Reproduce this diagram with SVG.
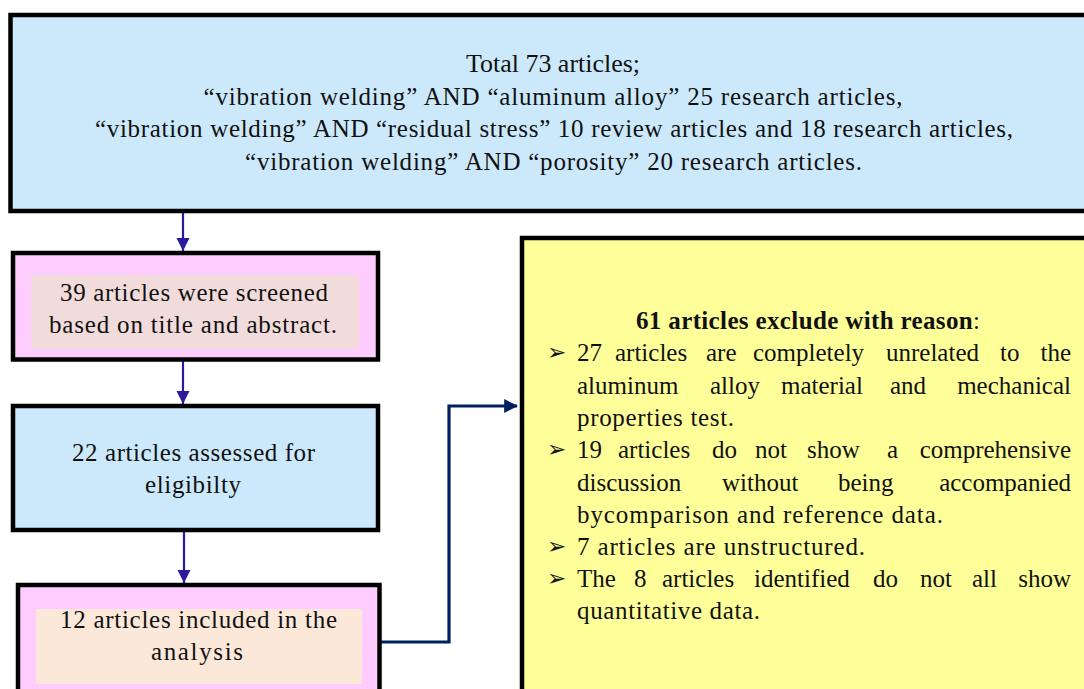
<svg xmlns="http://www.w3.org/2000/svg" width="1084" height="689" viewBox="0 0 1084 689">
<style>
.box{stroke:#000;stroke-width:4.5}
.t{font-family:"Liberation Serif","Times New Roman",serif;font-size:25px;fill:#111}
.m{text-anchor:middle}
.e{text-anchor:end}
.b{font-weight:bold}
.bul{font-family:"DejaVu Sans",sans-serif;font-size:23px;fill:#111}
.arr{stroke:#2c1a9c;stroke-width:2.2;fill:none}
.con{stroke:#002060;stroke-width:3.2;fill:none}
</style>
<defs>
<marker id="ah" viewBox="0 0 12 12" markerUnits="userSpaceOnUse" markerWidth="13" markerHeight="14" refX="12" refY="6" orient="auto">
<path d="M0,0 L12,6 L0,12 z" fill="#2c1a9c"/>
</marker>
<marker id="ah2" viewBox="0 0 12 12" markerUnits="userSpaceOnUse" markerWidth="14" markerHeight="14" refX="11" refY="6" orient="auto">
<path d="M0,0 L12,6 L0,12 z" fill="#002060"/>
</marker>
</defs>
<rect width="1084" height="689" fill="#fff"/>
<g id="connectors">
<line class="arr" x1="183" y1="213" x2="183" y2="251" marker-end="url(#ah)"/>
<line class="arr" x1="183" y1="361" x2="183" y2="404" marker-end="url(#ah)"/>
<line class="arr" x1="184" y1="532" x2="184" y2="583" marker-end="url(#ah)"/>
<polyline class="con" points="381,642 449,642 449,406 517,406" marker-end="url(#ah2)"/>
</g>
<g id="node-total">
<rect class="box" x="10.5" y="15" width="1090" height="196" fill="#cce9fc"/>
<text class="t m" x="553" y="72" textLength="174" lengthAdjust="spacingAndGlyphs">Total 73 articles;</text>
<text class="t m" x="553" y="104.5" textLength="699" lengthAdjust="spacing">“vibration welding” AND “aluminum alloy” 25 research articles,</text>
<text class="t m" x="554" y="137" textLength="918" lengthAdjust="spacing">“vibration welding” AND “residual stress” 10 review articles and 18 research articles,</text>
<text class="t m" x="553.5" y="169.5" textLength="617" lengthAdjust="spacing">“vibration welding” AND “porosity” 20 research articles.</text>
</g>
<g id="node-screened">
<rect class="box" x="13" y="253" width="365" height="106.5" fill="#ffccff"/>
<rect x="31" y="275" width="328" height="74" fill="#f2dcdb"/>
<text class="t m" x="194" y="301" textLength="268" lengthAdjust="spacing">39 articles were screened</text>
<text class="t m" x="193" y="333" textLength="288" lengthAdjust="spacing">based on title and abstract.</text>
</g>
<g id="node-assessed">
<rect class="box" x="13" y="406" width="365" height="124" fill="#cce9fc"/>
<text class="t m" x="193.5" y="461" textLength="243" lengthAdjust="spacing">22 articles assessed for</text>
<text class="t m" x="193" y="493" textLength="96" lengthAdjust="spacing">eligibilty</text>
</g>
<g id="node-included">
<rect class="box" x="18" y="585" width="361.5" height="120" fill="#ffccff"/>
<rect x="36" y="609" width="326" height="75" fill="#fce8d9"/>
<text class="t m" x="198.5" y="628" textLength="277" lengthAdjust="spacing">12 articles included in the</text>
<text class="t m" x="197" y="660" textLength="92" lengthAdjust="spacing">analysis</text>
</g>
<g id="node-excluded">
<rect class="box" x="522" y="238" width="600" height="500" fill="#ffff99"/>
<text class="t m" x="808" y="329" textLength="344" lengthAdjust="spacing"><tspan class="b">61 articles exclude with reason</tspan>:</text>
<g class="bul">
<text x="547" y="360">➢</text>
<text x="547" y="457">➢</text>
<text x="547" y="553.5">➢</text>
<text x="547" y="586">➢</text>
</g>
<text class="t" y="361"><tspan x="577">27</tspan><tspan x="615">articles</tspan><tspan x="706">are</tspan><tspan x="753">completely</tspan><tspan x="886">unrelated</tspan><tspan x="1000">to</tspan></text>
<text class="t e" x="1071" y="361">the</text>
<text class="t" y="393.5"><tspan x="577">aluminum</tspan><tspan x="710">alloy</tspan><tspan x="781">material</tspan><tspan x="890">and</tspan></text>
<text class="t e" x="1071" y="393.5">mechanical</text>
<text class="t" x="577" y="425.5" textLength="157" lengthAdjust="spacing">properties test.</text>
<text class="t" y="458"><tspan x="577">19</tspan><tspan x="618">articles</tspan><tspan x="712">do</tspan><tspan x="755">not</tspan><tspan x="807">show</tspan><tspan x="887">a</tspan></text>
<text class="t e" x="1071" y="458">comprehensive</text>
<text class="t" y="490.5"><tspan x="577">discussion</tspan><tspan x="722">without</tspan><tspan x="838">being</tspan></text>
<text class="t e" x="1071" y="490.5">accompanied</text>
<text class="t" x="577" y="522.5" textLength="366" lengthAdjust="spacing">bycomparison and reference data.</text>
<text class="t" x="577" y="554.5" textLength="288" lengthAdjust="spacing">7 articles are unstructured.</text>
<text class="t" y="587"><tspan x="577">The</tspan><tspan x="634">8</tspan><tspan x="662">articles</tspan><tspan x="754">identified</tspan><tspan x="873">do</tspan><tspan x="920">not</tspan><tspan x="972">all</tspan></text>
<text class="t e" x="1071" y="587">show</text>
<text class="t" x="577" y="619" textLength="183" lengthAdjust="spacing">quantitative data.</text>
</g>
</svg>
